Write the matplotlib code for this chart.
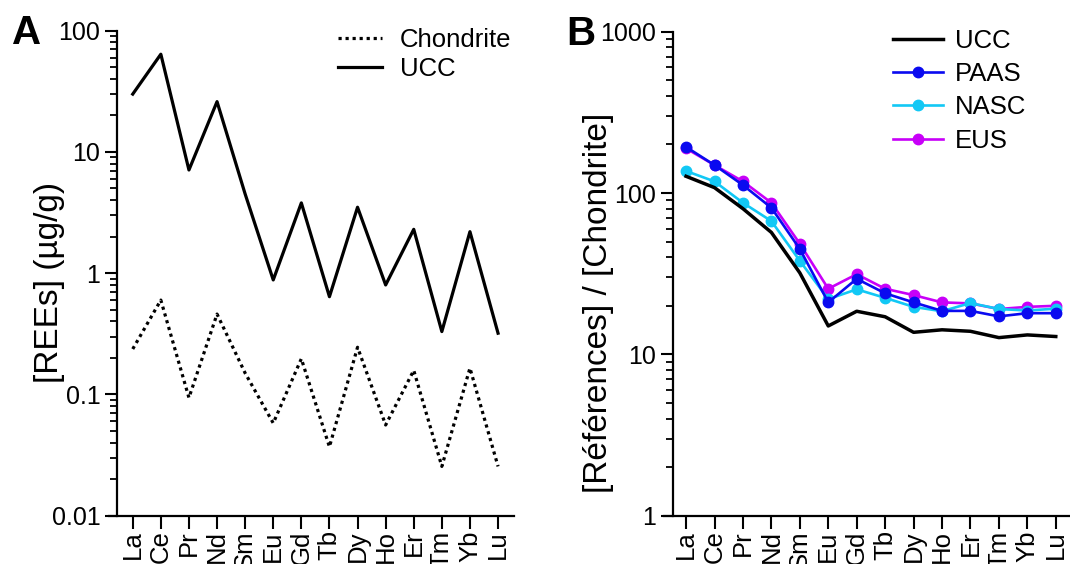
import numpy as np
import matplotlib
matplotlib.use("Agg")
import matplotlib.pyplot as plt
from matplotlib.ticker import LogLocator, FixedLocator, FixedFormatter, NullFormatter

plt.rcParams['font.family'] = ['Liberation Sans', 'DejaVu Sans']

# ---------------- data ----------------
elements = ['La', 'Ce', 'Pr', 'Nd', 'Sm', 'Eu', 'Gd', 'Tb', 'Dy', 'Ho', 'Er', 'Tm', 'Yb', 'Lu']

# Panel A: concentrations (µg/g)
chondrite = [0.237, 0.60, 0.094, 0.46, 0.15, 0.058, 0.197, 0.037, 0.245, 0.056, 0.158, 0.0255, 0.165, 0.0255]
ucc = [30, 64, 7.1, 26, 4.5, 0.88, 3.8, 0.64, 3.5, 0.80, 2.3, 0.33, 2.2, 0.32]

# Panel B: chondrite-normalised references
ucc_norm = [127, 108, 80, 57, 32, 15.0, 18.5, 17.1, 13.7, 14.2, 13.9, 12.7, 13.2, 12.9]
paas = [193, 149, 112, 81, 45, 21.0, 29.4, 23.9, 21.0, 18.6, 18.6, 17.2, 18.0, 18.0]
nasc = [137, 118, 87, 67, 38, 22.0, 25.3, 22.4, 19.7, 18.5, 20.8, 19.1, 18.7, 19.2]
eus = [189, 149, 118, 87, 48.5, 25.5, 31.4, 25.5, 23.3, 21.0, 20.7, 19.1, 19.7, 20.0]

yticks_a = [0.01, 0.1, 1, 10, 100]
yticklabels_a = ['0.01', '0.1', '1', '10', '100']
yticks_b = [1, 10, 100, 1000]
yticklabels_b = ['1', '10', '100', '1000']

# ---------------- figure ----------------
W, H = 1070, 564
fig = plt.figure(figsize=(W / 100, H / 100), dpi=100)

ax1 = fig.add_axes([117 / W, 1 - 515.7 / H, (513.5 - 117) / W, (515.7 - 30.7) / H])
ax2 = fig.add_axes([672.7 / W, 1 - 515.7 / H, (1070 - 672.7) / W, (515.7 - 31.7) / H])

tick_fs = 18
xtick_fs = 18.5
lab_fs = 24
leg_fs = 18.5

ax1.plot(elements, chondrite, color='black', lw=2.3, linestyle=(0, (1, 1.2)), label='Chondrite')
ax1.plot(elements, ucc, color='black', lw=2.3, label='UCC')

ax2.plot(elements, ucc_norm, color='black', lw=2.5, label='UCC', zorder=5)
l_eus, = ax2.plot(elements, eus, color='#C800F8', lw=1.9, marker='o', ms=7.5, label='EUS', zorder=2)
l_nasc, = ax2.plot(elements, nasc, color='#12C8F5', lw=1.9, marker='o', ms=7.5, label='NASC', zorder=3)
l_paas, = ax2.plot(elements, paas, color='#0A0AF0', lw=1.9, marker='o', ms=7.5, label='PAAS', zorder=4)

for ax, lo, hi, ticks, labels, xl in [
    (ax1, 0.01, 100, yticks_a, yticklabels_a, (-0.56, 13.55)),
    (ax2, 1, 1000, yticks_b, yticklabels_b, (-0.47, 13.5)),
]:
    ax.set_yscale('log')
    ax.set_ylim(lo, hi)
    ax.set_xlim(*xl)
    ax.yaxis.set_major_locator(FixedLocator(ticks))
    ax.yaxis.set_major_formatter(FixedFormatter(labels))
    ax.yaxis.set_minor_locator(LogLocator(base=10, subs=np.arange(2, 10)))
    ax.yaxis.set_minor_formatter(NullFormatter())
    ax.spines['top'].set_visible(False)
    ax.spines['right'].set_visible(False)
    for s in ('left', 'bottom'):
        ax.spines[s].set_linewidth(1.6)
    ax.spines['bottom'].set_bounds(xl[0] - 0.3, xl[1])
    ax.tick_params(axis='y', which='major', direction='out', length=9, width=1.5,
                   labelsize=tick_fs, pad=3)
    ax.tick_params(axis='x', which='major', direction='out', length=9, width=1.5,
                   labelsize=xtick_fs, pad=1.5, labelrotation=90)
    ax.tick_params(axis='y', which='minor', direction='out', length=5, width=1.3)
    ax.set_facecolor('none')

ax1.set_ylabel('[REEs] (µg/g)', fontsize=lab_fs, va='center')
ax1.yaxis.set_label_coords(-0.17, 0.48)
ax2.set_ylabel('[Références] / [Chondrite]', fontsize=lab_fs, va='center')
ax2.yaxis.set_label_coords(-0.186, 0.44)

ax1.legend(loc='upper left', bbox_to_anchor=(0.557, 1.005), frameon=False,
           fontsize=leg_fs, handlelength=1.71, handletextpad=0.7,
           labelspacing=0.17, borderpad=0, borderaxespad=0)

ax2.legend(loc='upper left', bbox_to_anchor=(0.554, 1.006), frameon=False,
           fontsize=leg_fs, handlelength=1.95, handletextpad=0.47,
           labelspacing=0.36, borderpad=0, borderaxespad=0,
           handles=[ax2.lines[0], l_paas, l_nasc, l_eus])

fig.text(27 / W, 1 - 33 / H, 'A', fontsize=29, fontweight='bold', ha='center', va='center')
fig.text(581 / W, 1 - 34 / H, 'B', fontsize=29, fontweight='bold', ha='center', va='center')

fig.savefig('out.png', dpi=100)
